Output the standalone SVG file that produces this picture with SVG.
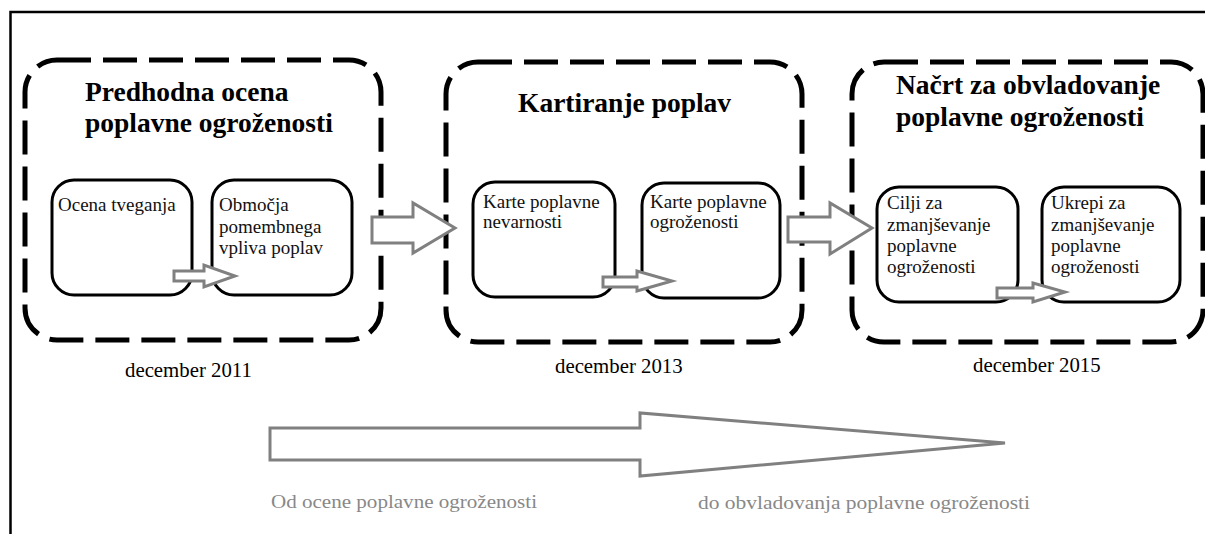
<svg xmlns="http://www.w3.org/2000/svg" width="1205" height="534" viewBox="0 0 1205 534">
<style>
.frame{fill:none;stroke:#000;stroke-width:2.5}
.stage{fill:none;stroke:#000;stroke-width:5;stroke-dasharray:34 12}
.box{fill:#fff;stroke:#000;stroke-width:3}
.arr{fill:#fff;stroke:#808080;stroke-width:3;stroke-linejoin:miter}
.title{font-family:"Liberation Serif",serif;font-weight:bold;font-size:27.5px;fill:#000}
.txt{font-family:"Liberation Serif",serif;font-size:19px;fill:#111}
.date{font-family:"Liberation Serif",serif;font-size:20.8px;fill:#000}
.foot{font-family:"Liberation Serif",serif;font-size:19px;fill:#888}
</style>
<rect width="1205" height="534" fill="#fff"/>
<path class="frame" d="M10.5,534 L10.5,12 L1205,12"/>

<g id="stage1">
<rect class="stage" x="25" y="60" width="356" height="280" rx="32"/>
<text class="title" x="85" y="101">Predhodna ocena</text>
<text class="title" x="85" y="132">poplavne ogroženosti</text>
<text class="date" x="125" y="377">december 2011</text>
</g>
<g id="n1a">
<rect class="box" x="52" y="180" width="140" height="115" rx="22"/>
<text class="txt" x="58" y="211">Ocena tveganja</text>
</g>
<g id="n1b">
<rect class="box" x="212" y="180" width="140" height="115" rx="22"/>
<text class="txt" x="219" y="211">Območja</text>
<text class="txt" x="219" y="233">pomembnega</text>
<text class="txt" x="219" y="254">vpliva poplav</text>
</g>

<g id="stage2">
<rect class="stage" x="446" y="62" width="356" height="280" rx="32"/>
<text class="title" x="518" y="112">Kartiranje poplav</text>
<text class="date" x="555" y="373">december 2013</text>
</g>
<g id="n2a">
<rect class="box" x="473" y="182" width="142" height="115" rx="22"/>
<text class="txt" x="483" y="208">Karte poplavne</text>
<text class="txt" x="483" y="228">nevarnosti</text>
</g>
<g id="n2b">
<rect class="box" x="642" y="183" width="138" height="115" rx="22"/>
<text class="txt" x="650" y="208">Karte poplavne</text>
<text class="txt" x="650" y="228">ogroženosti</text>
</g>

<g id="stage3">
<rect class="stage" x="852" y="62" width="351" height="280" rx="32"/>
<text class="title" x="896" y="94">Načrt za obvladovanje</text>
<text class="title" x="896" y="126">poplavne ogroženosti</text>
<text class="date" x="973" y="372">december 2015</text>
</g>
<g id="n3a">
<rect class="box" x="877" y="187" width="141" height="115" rx="22"/>
<text class="txt" x="887" y="209">Cilji za</text>
<text class="txt" x="887" y="231">zmanjševanje</text>
<text class="txt" x="887" y="252">poplavne</text>
<text class="txt" x="887" y="273">ogroženosti</text>
</g>
<g id="n3b">
<rect class="box" x="1042" y="187" width="138" height="115" rx="22"/>
<text class="txt" x="1051" y="209">Ukrepi za</text>
<text class="txt" x="1051" y="231">zmanjševanje</text>
<text class="txt" x="1051" y="252">poplavne</text>
<text class="txt" x="1051" y="273">ogroženosti</text>
</g>

<g id="connectors">
<path class="arr" d="M174,271 L204,271 L204,265 L235,276 L204,287 L204,281 L174,281 Z"/>
<path class="arr" d="M603,277 L637,277 L637,271 L672,281 L637,291 L637,287 L603,287 Z"/>
<path class="arr" d="M997,288 L1033,288 L1033,283 L1065,292 L1033,302 L1033,298 L997,298 Z"/>
<path class="arr" d="M372,217 L413,217 L413,203 L455,228 L413,253 L413,243 L372,243 Z"/>
<path class="arr" d="M788,217 L830,217 L830,203 L872,228 L830,254 L830,242 L788,242 Z"/>
<path class="arr" stroke-width="3.5" d="M270,428 L640,428 L640,413 L1005,443 L640,476 L640,460 L270,460 Z"/>
</g>

<g id="footer">
<text class="foot" x="271" y="508" textLength="266" lengthAdjust="spacingAndGlyphs">Od ocene poplavne ogroženosti</text>
<text class="foot" x="698" y="509" textLength="332" lengthAdjust="spacingAndGlyphs">do obvladovanja poplavne ogroženosti</text>
</g>
</svg>
